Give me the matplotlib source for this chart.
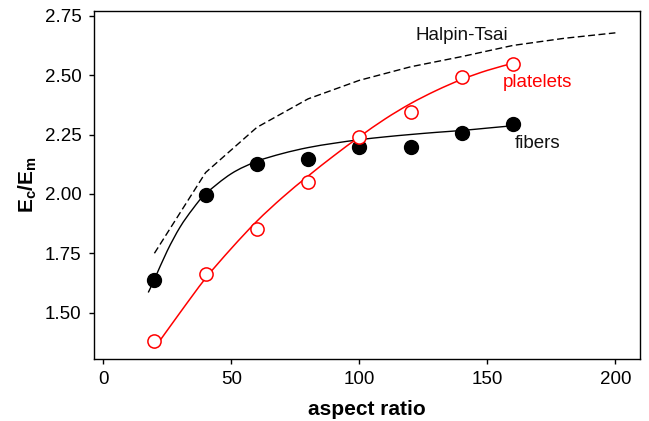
import matplotlib
matplotlib.use("Agg")
import matplotlib.pyplot as plt
from matplotlib.path import Path
from matplotlib.patches import PathPatch

plt.rcParams['font.family'] = ['Liberation Sans', 'DejaVu Sans']
plt.rcParams['mathtext.fontset'] = 'custom'
plt.rcParams['mathtext.rm'] = 'Liberation Sans'
plt.rcParams['mathtext.bf'] = 'Liberation Sans:bold'
plt.rcParams['mathtext.it'] = 'Liberation Sans:italic'

# measured data
aspect = [20, 40, 60, 80, 100, 120, 140, 160]
fibers = [1.637, 1.997, 2.127, 2.147, 2.196, 2.197, 2.258, 2.296]
platelets = [1.382, 1.661, 1.851, 2.048, 2.241, 2.345, 2.494, 2.546]

# Halpin-Tsai prediction
ht_x = [20, 40, 60, 80, 100, 120, 140, 160, 180, 200]
ht_y = [1.75, 2.09, 2.28, 2.40, 2.478, 2.535, 2.578, 2.625, 2.655, 2.678]

# fitted curves
fib_fit_x = [17.6, 20, 25, 30, 35, 40, 50, 60, 70, 80, 90, 100, 110, 120, 130, 140, 150, 160]
fib_fit_y = [1.585, 1.64, 1.76, 1.86, 1.937, 2.00, 2.085, 2.137, 2.170, 2.195, 2.213, 2.228,
             2.240, 2.250, 2.259, 2.267, 2.277, 2.287]
pl_fit_x = [20, 30, 40, 50, 60, 70, 80, 90, 100, 110, 120, 130, 140, 150, 160]
pl_fit_y = [1.35, 1.50, 1.645, 1.77, 1.885, 1.985, 2.075, 2.16, 2.24, 2.315, 2.38, 2.435,
            2.482, 2.52, 2.55]


def smooth_path(xs, ys):
    """Catmull-Rom spline through the read points, drawn as cubic Bezier segments."""
    pts = list(zip(xs, ys))
    verts = [pts[0]]
    codes = [Path.MOVETO]
    n = len(pts)
    for i in range(n - 1):
        p0 = pts[i - 1] if i > 0 else pts[i]
        p1 = pts[i]
        p2 = pts[i + 1]
        p3 = pts[i + 2] if i + 2 < n else pts[i + 1]
        c1 = (p1[0] + (p2[0] - p0[0]) / 6.0, p1[1] + (p2[1] - p0[1]) / 6.0)
        c2 = (p2[0] - (p3[0] - p1[0]) / 6.0, p2[1] - (p3[1] - p1[1]) / 6.0)
        verts += [c1, c2, p2]
        codes += [Path.CURVE4] * 3
    return Path(verts, codes)


fig = plt.figure(figsize=(6.49, 4.21), dpi=100)
ax = fig.add_axes([0.1448, 0.1473, 0.8413, 0.8266])

ax.plot(ht_x, ht_y, color='black', lw=1.0, linestyle=(0, (5, 2.5)), zorder=2)
ax.add_patch(PathPatch(smooth_path(fib_fit_x, fib_fit_y), facecolor='none',
                       edgecolor='black', lw=1.0, zorder=2))
ax.add_patch(PathPatch(smooth_path(pl_fit_x, pl_fit_y), facecolor='none',
                       edgecolor='red', lw=1.1, zorder=2))

ax.plot(aspect, fibers, linestyle='none', marker='o', ms=10, mfc='black', mec='black', zorder=3)
ax.plot(aspect, platelets, linestyle='none', marker='o', ms=9.5, mfc='white', mec='red',
        mew=1.1, zorder=3)

ax.text(121.8, 2.665, 'Halpin-Tsai', fontsize=13.5, color='#111111', va='center', ha='left')
ax.text(156.0, 2.468, 'platelets', fontsize=13.5, color='red', va='center', ha='left')
ax.text(160.8, 2.213, 'fibers', fontsize=13.5, color='#111111', va='center', ha='left')

ax.set_xlim(-3.6, 209.6)
ax.set_ylim(1.305, 2.77)
ax.set_xticks([0, 50, 100, 150, 200])
ax.set_yticks([1.50, 1.75, 2.00, 2.25, 2.50, 2.75])
ax.set_yticklabels(['1.50', '1.75', '2.00', '2.25', '2.50', '2.75'])

ax.tick_params(axis='both', direction='out', length=3.5, width=1.0, labelsize=13.5,
               pad=5.5, top=False, right=False)
for s in ax.spines.values():
    s.set_linewidth(1.0)

ax.set_xlabel('aspect ratio', fontsize=15, fontweight='bold', labelpad=8)
ax.set_ylabel(r'$\mathbf{E_c/E_m}$', fontsize=15, labelpad=4)

fig.savefig('out.png', dpi=100)
